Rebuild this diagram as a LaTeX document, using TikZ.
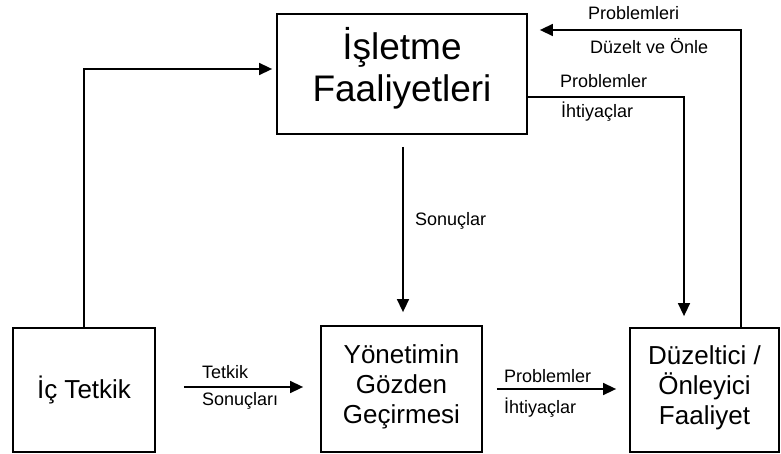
\documentclass[tikz,border=0pt]{standalone}
\usepackage{fontspec}
\setmainfont{Liberation Sans}
\usetikzlibrary{arrows.meta}
\begin{document}
\begin{tikzpicture}[x=1pt,y=-1pt,
  box/.style={draw, line width=1.8pt, inner sep=0pt, align=center},
  bigtext/.style={font=\fontsize{37}{42}\selectfont},
  midtext/.style={font=\fontsize{26}{30}\selectfont},
  lbl/.style={inner sep=0pt, anchor=base west, font=\fontsize{18}{20}\selectfont},
  conn/.style={line width=1.5pt},
  arr/.style={conn, -{Triangle[length=13pt,width=12pt]}}]
\useasboundingbox (0,0) rectangle (781,454);
\fill[white] (0,0) rectangle (781,454);

\node[box, bigtext, minimum width=250pt, minimum height=120pt] (isl) at (402,74)
  {İşletme\\Faaliyetleri\rule[-19pt]{0pt}{0pt}};
\node[box, midtext, minimum width=142pt, minimum height=124pt] (ict) at (84,390) {İç Tetkik};
\node[box, midtext, minimum width=161pt, minimum height=126pt] (yon) at (401.5,389)
  {Yönetimin\\Gözden\\Geçirmesi\rule[-9pt]{0pt}{0pt}};
\node[box, midtext, minimum width=149pt, minimum height=124pt] (duz) at (704.5,390)
  {Düzeltici /\\Önleyici\\Faaliyet\rule[-9pt]{0pt}{0pt}};

\coordinate (c1) at (84,69);
\coordinate (c2) at (741,30);
\coordinate (c3) at (684,97);

% İç Tetkik -> İşletme
\draw[arr, shorten >=4pt] (ict.north) -- (c1) -- (isl.west |- c1);
% Düzeltici -> İşletme
\draw[arr, shorten >=12pt] (duz.north -| c2) -- (c2) -- (isl.east |- c2);
% İşletme -> Düzeltici
\draw[arr, shorten >=11pt] (isl.east |- c3) -- (c3) -- (duz.north -| c3);
% İşletme -> Yönetim
\draw[arr, shorten <=12pt, shorten >=13pt] ([xshift=1pt]isl.south) -- ([xshift=1.5pt]yon.north);
% İç Tetkik -> Yönetim
\draw[arr, shorten <=28pt, shorten >=17pt] ([yshift=3pt]ict.east) -- ([yshift=2pt]yon.west);
% Yönetim -> Düzeltici
\draw[arr, shorten <=14pt, shorten >=13pt] (yon.east) -- ([yshift=1pt]duz.west);

\node[lbl] (l1) at (588,20) {Problemleri};
\node[lbl] (l2) at (590,54) {Düzelt ve Önle};
\node[lbl] (l3) at (560,88) {Problemler};
\node[lbl] (l4) at (561,118) {İhtiyaçlar};
\node[lbl] (l5) at (415,226) {Sonuçlar};
\node[lbl] (l6) at (202,378) {Tetkik};
\node[lbl] (l7) at (202,405) {Sonuçları};
\node[lbl] (l8) at (504,382) {Problemler};
\node[lbl] (l9) at (504,413) {İhtiyaçlar};
\end{tikzpicture}
\end{document}
